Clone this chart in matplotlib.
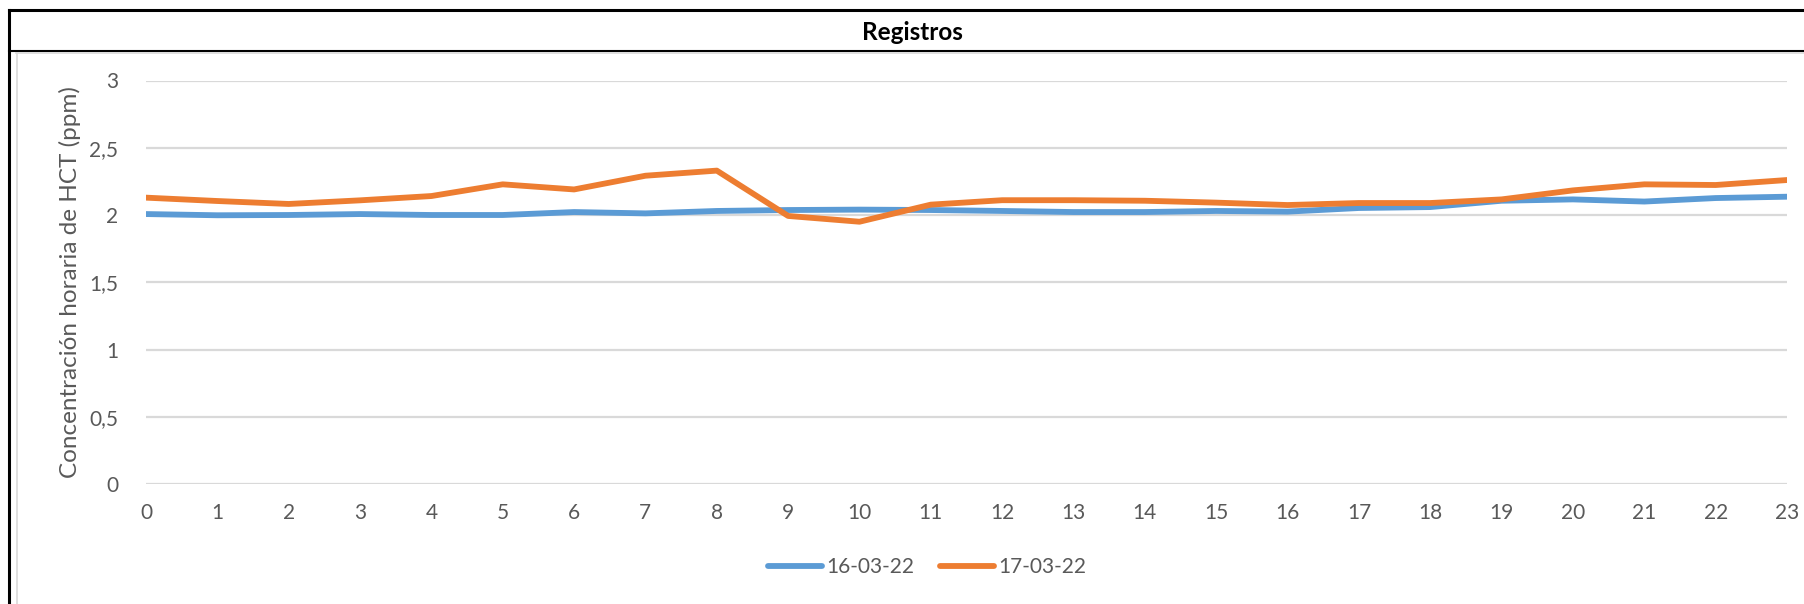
import matplotlib
matplotlib.use('Agg')
import matplotlib.pyplot as plt
from matplotlib.lines import Line2D

# -- data --
hours = list(range(24))
hct_16 = [2.007, 1.998, 2.000, 2.007, 2.000, 2.000, 2.022, 2.012, 2.030, 2.037, 2.040, 2.037,
          2.030, 2.022, 2.022, 2.030, 2.025, 2.052, 2.059, 2.106, 2.116, 2.100, 2.126, 2.136]
hct_17 = [2.129, 2.104, 2.082, 2.109, 2.141, 2.228, 2.190, 2.292, 2.330, 1.993, 1.950, 2.077,
          2.110, 2.110, 2.106, 2.092, 2.074, 2.089, 2.089, 2.116, 2.183, 2.228, 2.223, 2.260]
labels = ['16-03-22', '17-03-22']
y_ticks = [0, 0.5, 1, 1.5, 2, 2.5, 3]
y_tick_labels = ['0', '0,5', '1', '1,5', '2', '2,5', '3']

plt.rcParams['font.family'] = ['Lato', 'DejaVu Sans']
txt_col = '#595959'
W, H = 1804, 604

fig = plt.figure(figsize=(W / 100, H / 100), dpi=100)
ax = fig.add_axes([146 / W, 1 - 484 / H, (1787 - 146) / W, (484 - 80.5) / H])

ax.plot(hours, hct_16, color='#5B9BD5', lw=4.2, solid_capstyle='round', label=labels[0])
ax.plot(hours, hct_17, color='#ED7D31', lw=4.2, solid_capstyle='round', label=labels[1])

ax.set_xlim(0, 23)
ax.set_ylim(0, 3)
ax.set_xticks(hours)
ax.set_yticks(y_ticks)
ax.set_yticklabels(y_tick_labels)
ax.tick_params(length=0, labelsize=15, labelcolor=txt_col)
ax.tick_params(axis='x', pad=14)
ax.tick_params(axis='y', pad=20)
ax.grid(axis='y', color='#d9d9d9', lw=1.6)
ax.set_axisbelow(True)
for s in ax.spines.values():
    s.set_visible(False)
ax.set_ylabel('Concentración horaria de HCT (ppm)', fontsize=17.5, color=txt_col)
ax.yaxis.set_label_coords((81 - 146) / (1787 - 146), (484 - 282) / (484 - 80.5))

ax.legend(loc='center', bbox_to_anchor=(927 / W, 1 - 567 / H), bbox_transform=fig.transFigure,
          ncol=2, frameon=False, fontsize=15, handlelength=2.6, handletextpad=0.2,
          columnspacing=1.2, labelcolor=txt_col)

# table-like frame around the chart
fig.add_artist(Line2D([9 / W, 9 / W], [0, 1 - 10 / H], color='black', lw=2.2))
fig.add_artist(Line2D([9 / W, 1], [1 - 10 / H, 1 - 10 / H], color='black', lw=2.2))
fig.add_artist(Line2D([9 / W, 1], [1 - 50.5 / H, 1 - 50.5 / H], color='black', lw=1.5))
fig.add_artist(Line2D([16 / W, 1], [1 - 52.5 / H, 1 - 52.5 / H], color='#d9d9d9', lw=1.2))
fig.add_artist(Line2D([17 / W, 17 / W], [0, 1 - 52.5 / H], color='#d9d9d9', lw=1.2))
fig.text(912 / W, 1 - 32 / H, 'Registros', ha='center', va='center', fontsize=17.5,
         fontweight='bold', color='black')

fig.savefig('out.png', dpi=100)
